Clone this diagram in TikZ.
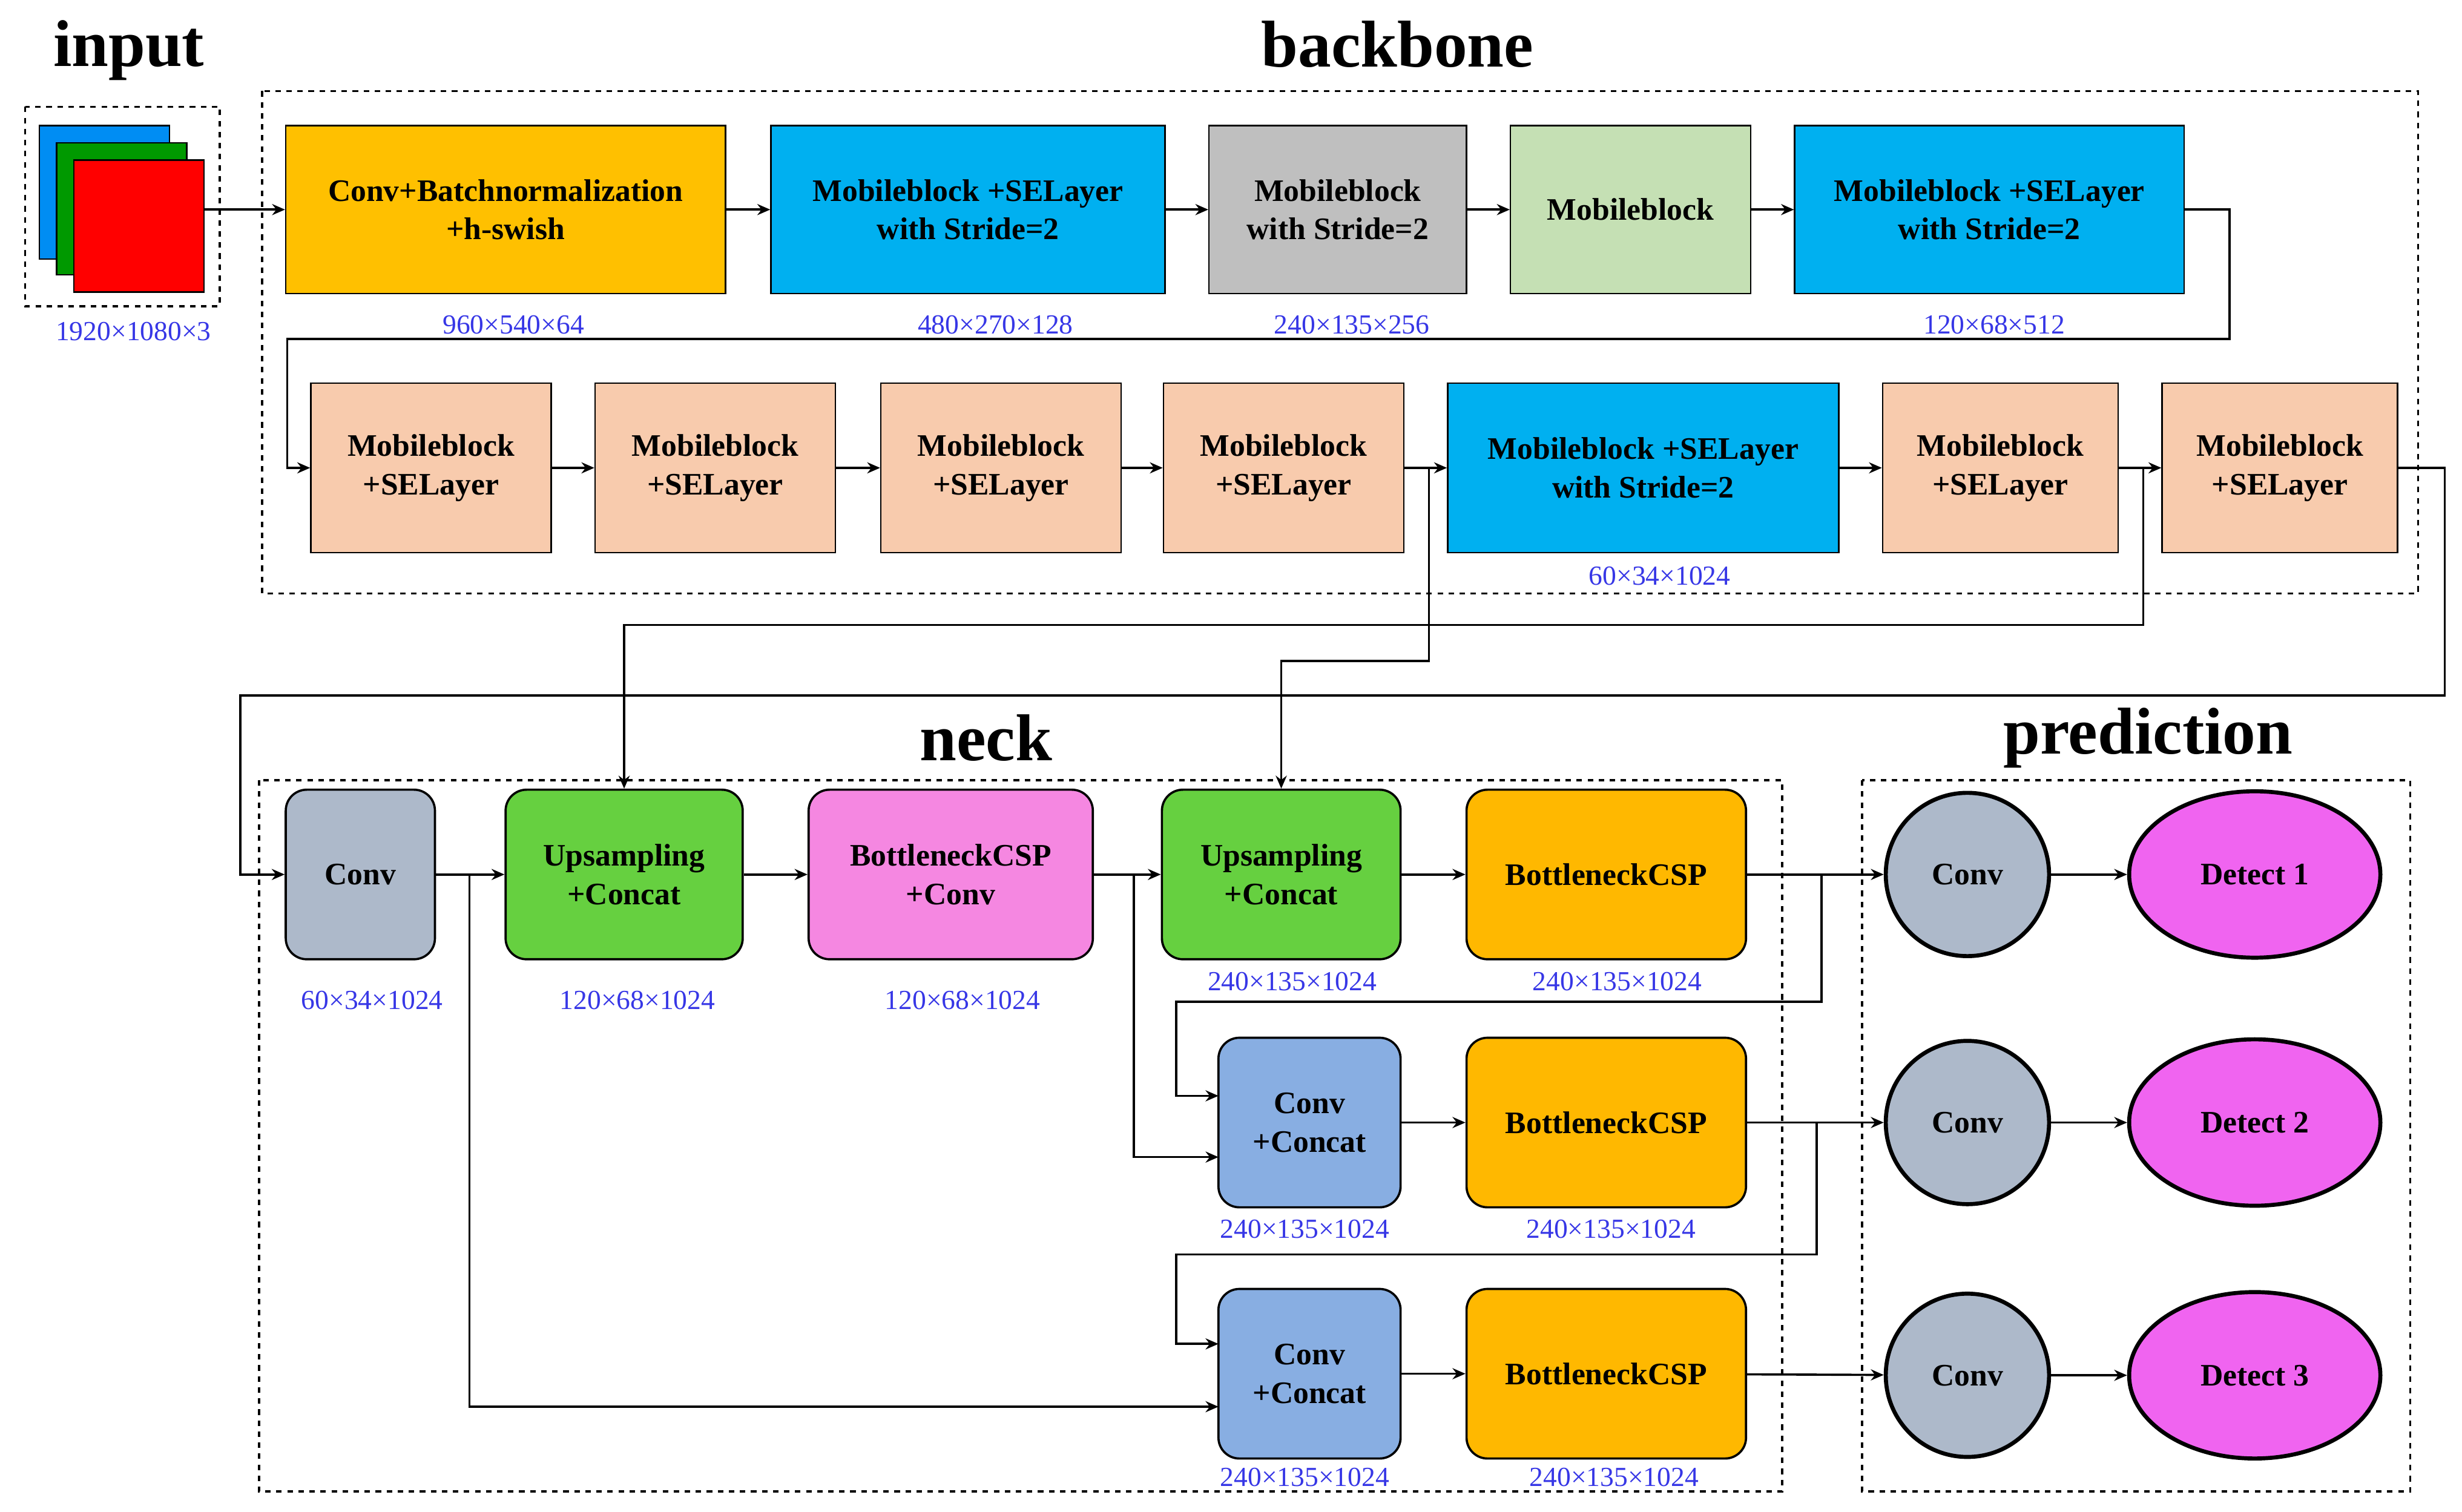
\documentclass[tikz,border=0pt]{standalone}
\usepackage{fontspec}
\setmainfont{Liberation Serif}
\usetikzlibrary{arrows.meta,shapes.geometric}
\definecolor{cOr}{RGB}{255,192,0}
\definecolor{cOr2}{RGB}{255,184,0}
\definecolor{cBl}{RGB}{0,176,240}
\definecolor{cGr}{RGB}{191,191,191}
\definecolor{cLg}{RGB}{197,224,180}
\definecolor{cPe}{RGB}{248,203,173}
\definecolor{cSl}{RGB}{173,185,202}
\definecolor{cGn}{RGB}{102,208,64}
\definecolor{cPk}{RGB}{245,135,225}
\definecolor{cCb}{RGB}{136,174,226}
\definecolor{cMg}{RGB}{240,100,240}
\definecolor{cLb}{RGB}{55,55,230}
\begin{document}
\begin{tikzpicture}[x=0.03cm,y=-0.03cm,
 bx/.style 2 args={draw=black,line width=0.8pt,minimum width=#1*0.03cm,minimum height=#2*0.03cm,inner sep=0pt,align=center,font=\fontsize{17}{21}\selectfont\bfseries},
 rb/.style 2 args={bx={#1}{#2},rounded corners=0.4cm,line width=1.2pt},
 lab/.style={text=cLb,font=\fontsize{15}{18}\selectfont,inner sep=0pt},
 ttl/.style={font=\fontsize{36}{40}\selectfont\bfseries,inner sep=0pt},
 dsh/.style={draw=black,dashed,line width=1.2pt},
 arr/.style={draw=black,line width=1.2pt,-{Stealth[length=7pt,width=6pt]}},
 ln/.style={draw=black,line width=1.2pt}]
\useasboundingbox (0,0) rectangle (1568,962.7);
% titles
\node[ttl] (tin) at (82,32) {input};
\node[ttl] (tbb) at (890,28) {backbone};
\node[ttl] (tnk) at (628,470) {neck};
\node[ttl] (tpr) at (1368,470) {prediction};
% dashed boxes
\draw[dsh] (16,68) rectangle (140,195);
\draw[dsh] (167,58) rectangle (1540,378);
\draw[dsh] (165,497) rectangle (1135,950);
\draw[dsh] (1186,497) rectangle (1535,950);
% input
\draw[fill=cBl!80!blue,line width=0.8pt] (25,80) rectangle (108,165);
\draw[fill=green!60!black,line width=0.8pt] (36,91) rectangle (119,175);
\draw[fill=red,line width=0.8pt] (47,102) rectangle (130,186);
\coordinate (inp) at (130,133.5);
\node[lab] (lin) at (85,211) {1920×1080×3};
% row 1
\node[bx={280}{107},fill=cOr] (b1) at (322,133.5) {Conv+Batchnormalization\\+h-swish};
\node[bx={251}{107},fill=cBl] (b2) at (616.5,133.5) {Mobileblock +SELayer\\with Stride=2};
\node[bx={164}{107},fill=cGr] (b3) at (852,133.5) {Mobileblock\\with Stride=2};
\node[bx={153}{107},fill=cLg] (b4) at (1038.5,133.5) {Mobileblock};
\node[bx={248}{107},fill=cBl] (b5) at (1267,133.5) {Mobileblock +SELayer\\with Stride=2};
\node[lab] at (327,207) {960×540×64};
\node[lab] at (634,207) {480×270×128};
\node[lab] at (861,207) {240×135×256};
\node[lab] at (1270,207) {120×68×512};
% row 2
\foreach \n/\x in {c1/274.5,c2/455.5,c3/637.5,c4/817.5}
  \node[bx={153}{108},fill=cPe] (\n) at (\x,298) {Mobileblock\\+SELayer};
\node[bx={249}{108},fill=cBl] (c5) at (1046.5,298) {Mobileblock +SELayer\\with Stride=2};
\node[bx={150}{108},fill=cPe] (c6) at (1274,298) {Mobileblock\\+SELayer};
\node[bx={150}{108},fill=cPe] (c7) at (1452,298) {Mobileblock\\+SELayer};
\node[lab] at (1057,367) {60×34×1024};
% neck
\node[rb={95}{108},fill=cSl] (n1) at (229.5,557) {Conv};
\node[rb={151}{108},fill=cGn] (n2) at (397.5,557) {Upsampling\\+Concat};
\node[rb={181}{108},fill=cPk] (n3) at (605.5,557) {BottleneckCSP\\+Conv};
\node[rb={152}{108},fill=cGn] (n4) at (816,557) {Upsampling\\+Concat};
\node[rb={178}{108},fill=cOr2] (n5) at (1023,557) {BottleneckCSP};
\node[rb={116}{108},fill=cCb] (n6) at (834,715) {Conv\\+Concat};
\node[rb={178}{108},fill=cOr2] (n7) at (1023,715) {BottleneckCSP};
\node[rb={116}{108},fill=cCb] (n8) at (834,875) {Conv\\+Concat};
\node[rb={178}{108},fill=cOr2] (n9) at (1023,875) {BottleneckCSP};
\node[lab] at (237,637) {60×34×1024};
\node[lab] at (406,637) {120×68×1024};
\node[lab] at (613,637) {120×68×1024};
\node[lab] at (823,625) {240×135×1024};
\node[lab] at (1030,625) {240×135×1024};
\node[lab] at (831,783) {240×135×1024};
\node[lab] at (1026,783) {240×135×1024};
\node[lab] at (831,941) {240×135×1024};
\node[lab] at (1028,941) {240×135×1024};
% prediction
\foreach \n/\y in {p1/557,p2/715,p3/876}
  \node[circle,draw=black,line width=2.2pt,fill=cSl,minimum size=104*0.03cm,inner sep=0pt,font=\fontsize{17}{21}\selectfont\bfseries] (\n) at (1253,\y) {Conv};
\foreach \n/\y/\t in {d1/557/Detect 1,d2/715/Detect 2,d3/876/Detect 3}
  \node[ellipse,draw=black,line width=2.2pt,fill=cMg,minimum width=160*0.03cm,minimum height=106*0.03cm,inner sep=0pt,font=\fontsize{17}{21}\selectfont\bfseries] (\n) at (1436,\y) {\t};
% connectors backbone
\draw[arr] (inp) -- (b1.west);
\draw[arr] (b1) -- (b2); \draw[arr] (b2) -- (b3); \draw[arr] (b3) -- (b4); \draw[arr] (b4) -- (b5);
\coordinate (k1) at (183,298);
\draw[arr] (b5.east) -- (1420,133.5) -- (1420,216) -- (183,216) -- (k1) -- (c1.west);
\draw[arr] (c1) -- (c2); \draw[arr] (c2) -- (c3); \draw[arr] (c3) -- (c4); \draw[arr] (c4) -- (c5);
\draw[arr] (c5) -- (c6); \draw[arr] (c6) -- (c7);
\coordinate (jA) at (910,298);
\coordinate (jB) at (1365,298);
\draw[arr] (jA) -- (910,421) -| (n4.north);
\draw[arr] (jB) -- (1365,398) -| (n2.north);
\draw[arr] (c7.east) -- (1557,298) -- (1557,443) -- (153,443) |- (n1.west);
% neck connectors
\draw[arr] (n1) -- (n2); \draw[arr] (n2) -- (n3); \draw[arr] (n3) -- (n4); \draw[arr] (n4) -- (n5);
\draw[arr] (n6) -- (n7); \draw[arr] (n8) -- (n9);
\coordinate (jC) at (299,557);
\coordinate (e8) at (776,896);
\draw[arr] (jC) |- (e8);
\coordinate (jD) at (722,557);
\coordinate (e6b) at (776,737);
\draw[arr] (jD) |- (e6b);
\coordinate (jE) at (1160,557);
\coordinate (e6a) at (776,698);
\draw[arr] (jE) -- (1160,638) -- (749,638) |- (e6a);
\coordinate (jF) at (1157,715);
\coordinate (e8a) at (776,856);
\draw[arr] (jF) -- (1157,799) -- (749,799) |- (e8a);
\draw[arr] (n5) -- (p1); \draw[arr] (n7) -- (p2); \draw[arr] (n9) -- (p3);
\draw[arr] (p1) -- (d1); \draw[arr] (p2) -- (d2); \draw[arr] (p3) -- (d3);
\end{tikzpicture}
\end{document}
